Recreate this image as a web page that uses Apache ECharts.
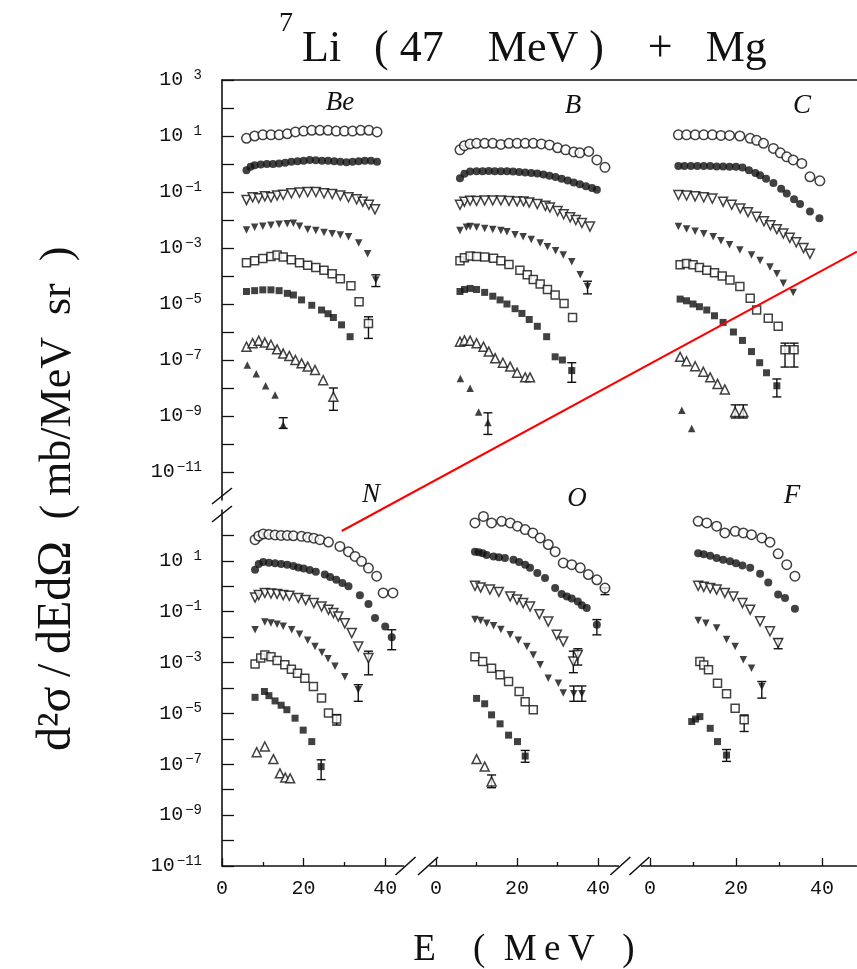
<!DOCTYPE html>
<html>
<head>
<meta charset="utf-8">
<title>7Li (47 MeV) + Mg</title>
<script src="https://cdn.jsdelivr.net/npm/echarts@6/dist/echarts.min.js"></script>
<style>
  html, body { margin: 0; padding: 0; background: #fff; }
  #chart { width: 857px; height: 969px; }
</style>
</head>
<body>
<div id="chart"></div>
<script>
// ---- data: [E (MeV), d2sigma/dEdOmega (mb/MeV sr)], one array per symbol row ----
// Be
const beS1 = [[6,8.3],[8,10],[10,11],[12,11],[14,11],[16,12],[18,14],[20,15],[22,16],[24,16],[26,16],[28,15],[30,15],[32,15],[34,16],[36,16],[38,14]];
const beS2 = [[6,0.6],[7,0.8],[8,0.9],[9.5,0.95],[11,1.0],[12.5,1.0],[14,1.05],[15.5,1.1],[17,1.2],[18.5,1.25],[20,1.3],[21.5,1.4],[23,1.35],[24.5,1.3],[26,1.3],[27.5,1.25],[29,1.2],[30.5,1.15],[32,1.2],[33.5,1.25],[35,1.3],[36.5,1.3],[38,1.2]];
const beS3 = [[6,0.052],[7.5,0.065],[9,0.06],[10.5,0.07],[12,0.065],[13.5,0.075],[15,0.08],[17,0.09],[19,0.095],[21,0.1],[23,0.1],[25,0.09],[27,0.085],[29,0.075],[31,0.065],[33,0.055],[34.5,0.045],[36,0.035],[37.5,0.024]];
const beS4 = [[6,0.0044],[8,0.0055],[10,0.006],[12,0.0065],[14,0.007],[16,0.0074],[17.5,0.0076],[19,0.006],[21,0.0046],[23,0.0042],[25,0.0036],[27,0.0032],[29,0.0029],[31,0.0025],[33.5,0.0015],[35.7,6.2e-4],[37.7,7.2e-5]];
const beS5 = [[6,3e-4],[8,3.5e-4],[10,4.2e-4],[12,5e-4],[13.5,5.6e-4],[15,4.8e-4],[17,3.8e-4],[19,3e-4],[21,2.4e-4],[23,2e-4],[25,1.6e-4],[27,1.2e-4],[29,8e-5],[31.6,4.5e-5],[33.6,1.2e-5],[35.9,2e-6]];
const beS6 = [[6,2.8e-5],[8,3e-5],[10,3.2e-5],[12,3.2e-5],[14,3e-5],[16,2.4e-5],[17.5,2.1e-5],[19.5,1.4e-5],[22,9e-6],[24.4,6.1e-6],[26,4.5e-6],[27.3,3.3e-6],[29.3,1.8e-6],[31.4,6.8e-7]];
const beS7 = [[6,3e-7],[7.5,4e-7],[9,4.9e-7],[10.5,4.2e-7],[12,3.5e-7],[13.5,2.4e-7],[15,1.7e-7],[16.5,1.4e-7],[18,1e-7],[19.5,7.6e-8],[21,5.8e-8],[22.8,4.4e-8],[24.8,1.9e-8],[27.3,4.9e-9]];
const beS8 = [[6.2,6.6e-8],[8.4,3.2e-8],[10.7,1.2e-8],[13,5.6e-9],[15,4.8e-10]];
const beErr = [[37.7,4.2e-5,1.1e-4],[35.9,5.9e-7,3.5e-6],[27.3,1.6e-9,1e-8],[15,3.6e-10,8.7e-10]];
// B
const bS1 = [[5.9,3.2],[7,4.5],[8.4,5.2],[10,5.5],[12,5.5],[14,5.5],[16,5.0],[18,5.5],[20,5.5],[22,5.5],[24,5.5],[26,5.2],[28,4.8],[30,3.8],[32,3.2],[34,2.7],[35.5,2.5],[37.7,2.8],[39.7,1.4],[41.7,0.76]];
const bS2 = [[5.9,0.31],[7,0.45],[8.4,0.54],[10,0.55],[11.5,0.55],[13,0.56],[14.5,0.55],[16,0.55],[17.5,0.55],[19,0.54],[20.5,0.52],[22,0.5],[23.5,0.48],[25,0.46],[26.5,0.42],[28,0.38],[29.5,0.34],[31,0.3],[32.5,0.26],[34,0.22],[35.5,0.19],[37,0.16],[38.5,0.14],[39.7,0.12]];
const bS3 = [[5.9,0.035],[7,0.045],[8.4,0.049],[10,0.048],[12,0.05],[14,0.05],[16,0.05],[18,0.048],[20,0.046],[21.6,0.046],[23,0.042],[25,0.037],[27,0.032],[28.1,0.028],[30,0.021],[31.5,0.016],[33.1,0.0125],[34.5,0.01],[36,0.0078],[38,0.0058]];
const bS4 = [[5.9,0.0042],[7.5,0.0055],[8.4,0.0058],[10,0.0055],[12,0.005],[14,0.0046],[16,0.0042],[17.5,0.0038],[19.5,0.003],[21.5,0.0025],[23.5,0.002],[25.7,0.0015],[27.5,0.0011],[29.5,8e-4],[31.4,5.6e-4],[33.5,3.2e-4],[35.6,1.1e-4],[37.4,4.2e-5]];
const bS5 = [[5.9,3.5e-4],[7,4.5e-4],[8.4,5.2e-4],[10,5e-4],[12,4.8e-4],[14.2,4.3e-4],[16,3.5e-4],[18,2.6e-4],[20.7,1.6e-4],[22.5,1.1e-4],[24,7.5e-5],[25.7,5.2e-5],[27.5,3.3e-5],[29.4,2.1e-5],[31.6,1.05e-5],[33.7,3.3e-6]];
const bS6 = [[5.9,2.8e-5],[7,3.3e-5],[8.4,3.6e-5],[10,3.3e-5],[12,2.6e-5],[14,1.9e-5],[15.8,1.4e-5],[17.5,1e-5],[19.5,6.8e-6],[21.2,4.6e-6],[23,2.8e-6],[25,1.6e-6],[27.3,6.8e-7],[29.4,1.3e-7],[31.2,1e-7],[33.5,4.2e-8]];
const bS7 = [[5.9,4.5e-7],[7,5e-7],[8.4,4.9e-7],[10,4e-7],[11.7,3e-7],[13,2e-7],[14.6,1.15e-7],[16.5,8e-8],[18.3,5.8e-8],[20,3.5e-8],[22,2.4e-8],[23.2,2.4e-8]];
const bS8 = [[6,2.2e-8],[8.4,9.8e-9],[10.5,1.4e-9],[12.8,5.8e-10]];
const bErr = [[37.4,2.3e-5,6.5e-5],[33.5,1.6e-8,8e-8],[12.8,2.2e-10,1.3e-9]];
// C
const cS1 = [[6.6,11],[8.5,11],[10.5,11],[12.5,11],[14.5,11],[16.5,10.5],[18.5,10.5],[20.9,10],[23.3,8.3],[24.8,7],[26.4,5.5],[28.7,3.6],[30.3,2.5],[31.8,1.8],[33.3,1.4],[35.3,1.05],[37.2,0.35],[39.5,0.25]];
const cS2 = [[6.6,0.85],[8,0.85],[9.5,0.85],[11,0.85],[12.5,0.85],[14,0.85],[15.5,0.82],[17,0.82],[18.5,0.8],[20,0.8],[21.5,0.75],[23,0.6],[24.5,0.48],[25.6,0.4],[27,0.3],[28.7,0.21],[30.5,0.13],[31.8,0.089],[33.5,0.055],[34.9,0.037],[37.2,0.02],[39.4,0.0115]];
const cS3 = [[6.6,0.078],[8.5,0.075],[10.5,0.07],[12.5,0.065],[14.5,0.058],[17,0.045],[19,0.035],[21,0.026],[22.8,0.019],[24.8,0.013],[26.5,0.009],[28,0.0065],[29.5,0.0047],[31,0.0033],[32.5,0.0023],[34,0.0016],[35.7,0.001],[37.2,6.2e-4]];
const cS4 = [[6.6,0.0058],[8.5,0.0048],[10.5,0.004],[12.5,0.0032],[14.7,0.0025],[16.5,0.0018],[18.5,0.0013],[20.9,8.5e-4],[23.6,5.6e-4],[25.6,3.6e-4],[27.9,2.1e-4],[29.5,1.2e-4],[31,5.5e-5],[33.3,2.6e-5]];
const cS5 = [[7,2.5e-4],[8.5,2.8e-4],[10,2.5e-4],[11.5,2e-4],[13.2,1.6e-4],[15,1.3e-4],[16.8,1e-4],[18.6,7.2e-5],[20.9,4.2e-5],[23.3,1.6e-5],[24.8,6.1e-6],[27.5,3.1e-6],[29.8,1.6e-6],[31.4,2.3e-7],[33.5,2.3e-7]];
const cS6 = [[7,1.5e-5],[8.5,1.3e-5],[10,1e-5],[11.5,8e-6],[13.2,6.1e-6],[15,3.8e-6],[17,2.2e-6],[19.4,1e-6],[21.5,5e-7],[23.6,2e-7],[25.5,8e-8],[27.1,3.5e-8],[29.5,1.2e-8]];
const cS7 = [[7,1.3e-7],[8.5,9e-8],[10.5,6e-8],[12.4,3.8e-8],[14,2.4e-8],[15.7,1.4e-8],[17.4,8.9e-9],[19.8,1.4e-9],[21.7,1.4e-9]];
const cS8 = [[7.4,1.6e-9],[9.7,3.6e-10]];
const cErr = [[31.4,5.6e-8,4e-7],[33.5,5.6e-8,4e-7],[29.5,4.8e-9,2.1e-8],[19.8,8.5e-10,2.5e-9],[21.7,8.5e-10,2.5e-9]];
// N
const nS1 = [[8.1,68],[9,95],[10.1,115],[11.5,110],[13,105],[14.5,100],[16,100],[17.5,97],[19.5,92],[21,85],[22.5,78],[24,68],[26.1,55],[28.9,37],[31,23],[32.6,15],[34.2,9.6],[35.9,5.2],[37.9,2.5],[39.5,0.55],[41.9,0.55]];
const nS2 = [[8.1,4.5],[9,7.5],[10.1,9.1],[11.5,8.5],[13,8],[14.5,7.5],[16,7],[17.5,6.3],[18.7,5.5],[20,5],[21.5,4.4],[23,3.7],[25.2,2.9],[26.5,2.3],[28,1.8],[29.5,1.35],[31,1],[33.8,0.44],[35.9,0.2],[37.5,0.056],[40,0.026],[41.6,0.0098]];
const nS3 = [[8.1,0.36],[9,0.45],[10.5,0.55],[12,0.52],[13.5,0.5],[15,0.45],[16.5,0.42],[18.7,0.35],[20.5,0.29],[22.5,0.22],[24.4,0.16],[26.1,0.12],[27.3,0.089],[28.5,0.065],[30.1,0.035],[31.8,0.0144],[33.4,0.0043],[35.9,0.0015]];
const nS4 = [[8.1,0.0195],[10.5,0.039],[12,0.036],[13.5,0.032],[15,0.027],[17.1,0.0195],[19,0.013],[21,0.0075],[22.8,0.0043],[24.5,0.0025],[26,0.0014],[27.7,7.1e-4],[30.1,2.8e-4],[33.4,8.5e-5]];
const nS5 = [[8.1,8.7e-4],[9.5,0.0015],[10.5,0.002],[12,0.0017],[13.5,0.0012],[15.4,8.2e-4],[17,5.5e-4],[18.5,3.8e-4],[20.3,2.4e-4],[22.4,1.15e-4],[24.4,4e-5],[26.1,1.03e-5],[28.1,6.1e-6]];
const nS6 = [[8.1,4.3e-5],[10.4,7.3e-5],[11.5,5e-5],[13,3.1e-5],[14.5,2.1e-5],[15.9,1.4e-5],[17.9,6.5e-6],[19.9,2.2e-6],[22,7.8e-7],[24.3,8.1e-8]];
const nS7 = [[8.5,3e-7],[10.5,5e-7],[12.6,1.6e-7],[14.2,4.4e-8],[15.5,3e-8],[16.7,2.8e-8]];
const nS8 = [];
const nErr = [[41.6,0.0032,0.0195],[35.9,3.3e-4,0.0028],[33.4,3e-5,1.35e-4],[28.1,3.5e-6,9e-6],[24.3,2.5e-8,1.5e-7]];
// O
const oS1 = [[9.6,310],[11.7,560],[13.7,310],[16.2,360],[18.3,310],[20.1,230],[22,170],[23.9,126],[25.7,80],[27.7,44],[29.4,23],[31.4,8.3],[33.5,7.1],[35.6,5.3],[37.6,2.9],[39.7,1.8],[41.7,0.85]];
const oS2 = [[9.6,23],[10.5,22],[11.5,20],[12.5,17],[14.2,15],[15.5,14],[17,13],[19.1,11],[20.5,9],[22,7],[23.2,5.3],[25,3.3],[26.9,2.1],[29.4,0.85],[31,0.5],[32.3,0.4],[33.5,0.33],[35,0.25],[36,0.18],[37.2,0.14],[39.7,0.031]];
const oS3 = [[9.6,1.05],[11,0.9],[13.3,0.74],[15.5,0.6],[18.3,0.4],[20,0.3],[21.5,0.22],[23.2,0.16],[25.5,0.08],[27.7,0.041],[29.8,0.0123],[31.4,0.0068],[33.9,0.0011],[35,0.002]];
const oS4 = [[9.6,0.049],[11,0.045],[12.5,0.035],[14.2,0.028],[16,0.02],[18.3,0.0123],[20.3,0.0075],[22.4,0.0043],[24,0.002],[25.7,8.2e-4],[27.7,2.4e-4],[30.2,1.55e-4],[31.4,6.3e-5],[34,6e-5],[36,6e-5]];
const oS5 = [[9.6,0.0017],[11.5,0.0011],[13.7,6e-4],[15.8,3.3e-4],[17.9,1.8e-4],[20.5,7.3e-5],[22,2.9e-5],[24,1.4e-5]];
const oS6 = [[10,3.9e-5],[12,2.4e-5],[13.7,8.8e-6],[15.8,3.9e-6],[17.9,1.4e-6],[20.1,7.8e-7],[22,2.1e-7]];
const oS7 = [[10,1.6e-7],[12,8.1e-8],[13.7,2.1e-8]];
const oS8 = [];
const oErr = [[41.7,0.47,0.87],[39.7,0.0123,0.049],[33.9,4e-4,0.0028],[35,8e-4,0.0035],[34,3e-5,1.2e-4],[36,3e-5,1.2e-4],[22,1.2e-7,3.5e-7],[13.7,1.2e-8,3.8e-8]];
// F
const fS1 = [[11.2,360],[13.2,310],[15.5,230],[17.4,125],[19.8,145],[21.7,125],[23.6,107],[26,80],[27.9,54],[29.8,19],[31.8,7.1],[33.7,2.5]];
const fS2 = [[11.2,20],[12.5,18],[14,16],[15.5,13],[17,11],[18.6,9.6],[20,8],[21.5,6.5],[23.3,5.3],[25.6,3.1],[27.5,1.4],[29.8,0.47],[31.4,0.35],[33.7,0.13]];
const fS3 = [[11.2,1.05],[12.5,0.95],[14,0.85],[15.5,0.74],[17.4,0.55],[19.4,0.4],[21.5,0.22],[23.3,0.12],[25.6,0.042],[27.9,0.017],[29.8,0.0059]];
const fS4 = [[11.2,0.045],[13,0.035],[15.5,0.023],[17.8,0.008],[19.8,0.0043],[21.7,0.0013],[23.6,6e-4],[26,1.15e-4]];
const fS5 = [[11.6,0.0011],[12.5,8e-4],[13.6,5.2e-4],[15.7,1.55e-4],[17.8,5.9e-5],[19.8,1.6e-5],[21.9,5.6e-6]];
const fS6 = [[9.7,4.8e-6],[10.6,6e-6],[11.6,7.5e-6],[14,2.6e-6],[15.7,7.8e-7],[17.8,2.3e-7]];
const fS7 = [];
const fS8 = [];
const fErr = [[29.8,0.0035,0.0085],[26,4e-5,1.8e-4],[21.9,1.95e-6,8.7e-6],[17.8,1.3e-7,3.8e-7]];

const panelNames = ['Be', 'B', 'C', 'N', 'O', 'F'];
const panelSeries = [
  [beS1, beS2, beS3, beS4, beS5, beS6, beS7, beS8],
  [bS1, bS2, bS3, bS4, bS5, bS6, bS7, bS8],
  [cS1, cS2, cS3, cS4, cS5, cS6, cS7, cS8],
  [nS1, nS2, nS3, nS4, nS5, nS6, nS7, nS8],
  [oS1, oS2, oS3, oS4, oS5, oS6, oS7, oS8],
  [fS1, fS2, fS3, fS4, fS5, fS6, fS7, fS8]
];
const panelErrors = [beErr, bErr, cErr, nErr, oErr, fErr];

// tick values
const xLabelTicks = [0, 20, 40];
const xMinorTicks = [10, 30];
const topYTicks = [1e3, 1e2, 1e1, 1e0, 1e-1, 1e-2, 1e-3, 1e-4, 1e-5, 1e-6, 1e-7, 1e-8, 1e-9, 1e-10, 1e-11];
const topYLabels = [1e3, 1e1, 1e-1, 1e-3, 1e-5, 1e-7, 1e-9, 1e-11];
const botYTicks = [1e2, 1e1, 1e0, 1e-1, 1e-2, 1e-3, 1e-4, 1e-5, 1e-6, 1e-7, 1e-8, 1e-9, 1e-10, 1e-11];
const botYLabels = [1e1, 1e-1, 1e-3, 1e-5, 1e-7, 1e-9, 1e-11];

// ---- layout ----
const INK = '#111111';
const cols = [
  { left: 222, min: 0, max: 44.5, ppm: 4.08 },
  { left: 430, min: -1.5, max: 45, ppm: 4.05 },
  { left: 641.4, min: -2, max: 48, ppm: 4.3 }
];
const rows = [
  { top: 80, height: 420, min: 1e-12, max: 1e3, ticks: topYTicks, labels: topYLabels },
  { top: 510, height: 356, min: 1e-11, max: 1e3, ticks: botYTicks, labels: botYLabels }
];
const MARKERS = [
  { symbol: 'circle', size: 9.5, filled: false },
  { symbol: 'circle', size: 8, filled: true },
  { symbol: 'triangle', size: 9, rotate: 180, filled: false },
  { symbol: 'triangle', size: 7.5, rotate: 180, filled: true },
  { symbol: 'rect', size: 8, filled: false },
  { symbol: 'rect', size: 7, filled: true },
  { symbol: 'triangle', size: 9, filled: false },
  { symbol: 'triangle', size: 7.5, filled: true }
];
const monoFont = '"Liberation Mono", "DejaVu Sans Mono", monospace';
const serifFont = '"Liberation Serif", "DejaVu Serif", serif';

// exponent written in a two-character field, as on the original typewriter labels
function expLabel(v) {
  const e = Math.round(Math.log10(v));
  const txt = e < 0 ? '\u2212' + (-e) : String(e);
  return '{b|10}{s|' + (txt.length < 2 ? ' ' + txt : txt) + '}';
}

const grid = [], xAxis = [], yAxis = [], series = [];

for (let p = 0; p < 6; p++) {
  const r = rows[Math.floor(p / 3)];
  const c = cols[p % 3];
  const isBottom = p >= 3;
  const isLeft = p % 3 === 0;
  grid.push({
    left: c.left, top: r.top,
    width: (c.max - c.min) * c.ppm, height: r.height,
    outerBoundsMode: 'none'
  });
  xAxis.push({
    type: 'value', gridIndex: p, min: c.min, max: c.max,
    show: isBottom, position: 'bottom',
    axisLine: { show: true, onZero: false, lineStyle: { color: INK, width: 1.6 } },
    axisTick: { show: true, inside: true, length: 8, customValues: xLabelTicks, lineStyle: { color: INK, width: 1.3 } },
    axisLabel: {
      customValues: xLabelTicks, margin: 13,
      fontFamily: monoFont, fontSize: 20, color: INK
    },
    splitLine: { show: false }
  });
  yAxis.push({
    type: 'log', logBase: 10, gridIndex: p, min: r.min, max: r.max,
    show: isLeft,
    axisLine: { show: true, onZero: false, lineStyle: { color: INK, width: 1.6 } },
    axisTick: { show: true, inside: true, length: 12, customValues: r.ticks, lineStyle: { color: INK, width: 1.3 } },
    axisLabel: {
      customValues: r.labels, margin: 20, formatter: expLabel,
      rich: {
        b: { fontFamily: monoFont, fontSize: 20, color: INK },
        s: { fontFamily: monoFont, fontSize: 14, color: INK, padding: [0, 0, 10, 2] }
      }
    },
    splitLine: { show: false }
  });

  panelSeries[p].forEach((data, i) => {
    if (!data.length) return;
    const m = MARKERS[i];
    series.push({
      type: 'scatter', xAxisIndex: p, yAxisIndex: p, data: data,
      symbol: m.symbol, symbolSize: m.size, symbolRotate: m.rotate || 0,
      itemStyle: {
        color: m.filled ? INK : '#ffffff',
        borderColor: INK, borderWidth: m.filled ? 0 : 1.5
      },
      silent: true, z: 3
    });
  });

  series.push({
    type: 'custom', xAxisIndex: p, yAxisIndex: p, data: panelErrors[p],
    encode: { x: 0, y: [1, 2] }, silent: true, z: 2,
    renderItem: function (params, api) {
      const lo = api.coord([api.value(0), api.value(1)]);
      const hi = api.coord([api.value(0), api.value(2)]);
      const w = 4.5;
      const st = { stroke: INK, lineWidth: 1.4 };
      return {
        type: 'group', children: [
          { type: 'line', shape: { x1: lo[0], y1: lo[1], x2: hi[0], y2: hi[1] }, style: st },
          { type: 'line', shape: { x1: lo[0] - w, y1: lo[1], x2: lo[0] + w, y2: lo[1] }, style: st },
          { type: 'line', shape: { x1: hi[0] - w, y1: hi[1], x2: hi[0] + w, y2: hi[1] }, style: st }
        ]
      };
    }
  });
}

// minor x ticks on the bottom row
for (let p = 3; p < 6; p++) {
  const c = cols[p % 3];
  xAxis.push({
    type: 'value', gridIndex: p, min: c.min, max: c.max, position: 'bottom',
    axisLine: { show: false, onZero: false },
    axisTick: { show: true, inside: true, length: 4, customValues: xMinorTicks, lineStyle: { color: INK, width: 1.3 } },
    axisLabel: { show: false },
    splitLine: { show: false }
  });
}

// top frame line across the upper row
grid.push({ left: 222, top: 80, width: 635, height: 420, outerBoundsMode: 'none' });
xAxis.push({
  type: 'value', gridIndex: 6, min: 0, max: 1, position: 'top',
  axisLine: { show: true, onZero: false, lineStyle: { color: INK, width: 1.6 } },
  axisTick: { show: false }, axisLabel: { show: false }, splitLine: { show: false }
});
yAxis.push({ type: 'value', gridIndex: 6, min: 0, max: 1, show: false });

// break marks
function slash(cx, cy, dx, dy) {
  return { type: 'line', shape: { x1: cx - dx, y1: cy + dy, x2: cx + dx, y2: cy - dy }, style: { stroke: INK, lineWidth: 1.6 } };
}
const axisY = 866;
const col1End = cols[0].left + (cols[0].max - cols[0].min) * cols[0].ppm;
const col2Start = cols[1].left;
const col2End = cols[1].left + (cols[1].max - cols[1].min) * cols[1].ppm;
const col3Start = cols[2].left;

const panelLabelPos = [[340, 103], [573, 106], [802, 106], [371, 495], [577, 499], [792, 496]];

function label(text, x, y, font, extra) {
  return Object.assign({
    type: 'text', x: x, y: y,
    style: { text: text, font: font, fill: INK, align: 'center', verticalAlign: 'middle', textAlign: 'center', textVerticalAlign: 'middle' }
  }, extra || {});
}

const graphic = [
  label('7', 286, 24, '28px ' + serifFont),
  { type: 'text', x: 302, y: 49, style: { text: 'Li   ( 47    MeV )    +   Mg', font: '44px ' + serifFont, fill: INK, align: 'left', verticalAlign: 'middle', textAlign: 'left', textVerticalAlign: 'middle' } },
  // y-axis title, two pieces rotated to read upward
  label('d\u00b2\u03c3\u2009/\u2009dEd\u03a9', 57, 646, '48px ' + serifFont, { rotation: Math.PI / 2 }),
  label('(\u2009mb/MeV  sr  )', 58, 383, '44px ' + serifFont, { rotation: Math.PI / 2 }),
  label('E    (  M\u2009e\u2009V   )', 524, 950, '37px ' + serifFont),
  slash(222, 496, 10, 8),
  slash(222, 514, 10, 8),
  slash(col1End + 2, axisY, 10, 9),
  slash(col2Start - 2, axisY, 10, 9),
  slash(col2End + 2, axisY, 10, 9),
  slash(col3Start - 2, axisY, 10, 9),
  { type: 'line', z: 100, shape: { x1: 341.7, y1: 531, x2: 857, y2: 251.7 }, style: { stroke: '#ff0000', lineWidth: 2 } }
];
panelNames.forEach((name, p) => {
  graphic.push(label(name, panelLabelPos[p][0], panelLabelPos[p][1], 'italic 27px ' + serifFont));
});

const chart = echarts.init(document.getElementById('chart'), null, { renderer: 'canvas' });
chart.setOption({
  backgroundColor: '#ffffff',
  animation: false,
  grid: grid,
  xAxis: xAxis,
  yAxis: yAxis,
  series: series,
  graphic: graphic
});
</script>
</body>
</html>
